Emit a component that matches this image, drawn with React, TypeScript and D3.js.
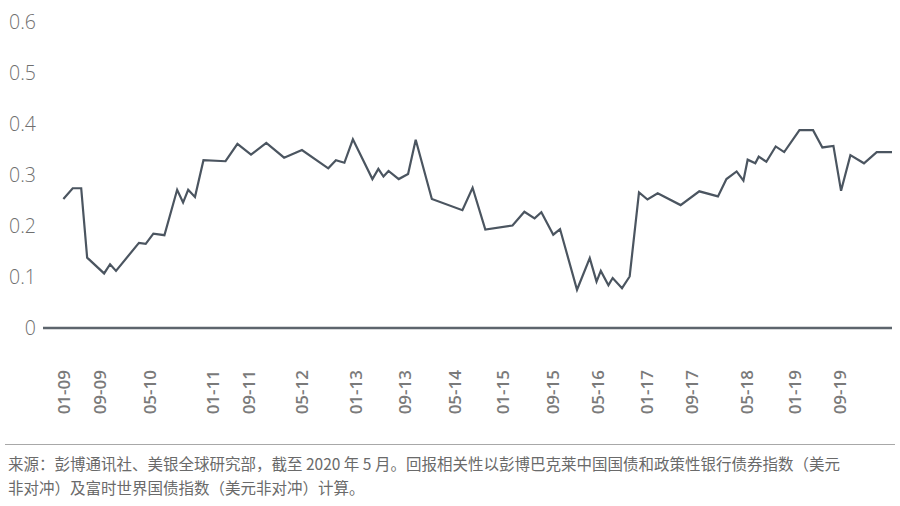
import React from "react";
import * as d3 from "d3";

// x positions on a 0–100 scale across the plot width (observation position), y = return correlation
const pointX = [
  2.4, 3.5, 4.5, 5.2, 7.2, 7.9, 8.6, 11.3, 12.1, 13.0, 14.3, 15.8, 16.5, 17.1, 17.9, 18.9,
  21.5, 22.9, 24.5, 26.3, 28.4, 30.5, 33.6, 34.5, 35.5, 36.5, 38.8, 39.5, 40.1, 40.7, 41.9,
  43.0, 43.9, 45.8, 49.4, 50.6, 52.1, 55.3, 56.7, 57.9, 58.7, 60.1, 60.9, 62.9, 64.4, 65.2,
  65.7, 66.6, 67.1, 68.2, 69.1, 70.2, 71.2, 72.4, 75.1, 77.3, 79.5, 80.5, 81.7, 82.5, 83.0,
  83.9, 84.3, 85.2, 86.3, 87.3, 89.1, 90.7, 91.8, 93.1, 94.0, 95.1, 96.7, 98.2, 100.0,
];
const correlation = [
  0.253, 0.274, 0.274, 0.138, 0.107, 0.125, 0.112, 0.167, 0.165, 0.185, 0.182, 0.271, 0.246, 0.271, 0.257, 0.329,
  0.327, 0.361, 0.340, 0.363, 0.334, 0.349, 0.313, 0.329, 0.324, 0.370, 0.292, 0.312, 0.297, 0.308, 0.292,
  0.302, 0.369, 0.253, 0.231, 0.275, 0.193, 0.201, 0.228, 0.215, 0.227, 0.183, 0.194, 0.075, 0.137, 0.091,
  0.112, 0.084, 0.098, 0.078, 0.101, 0.266, 0.252, 0.264, 0.241, 0.268, 0.258, 0.292, 0.307, 0.289, 0.330,
  0.323, 0.336, 0.326, 0.356, 0.345, 0.388, 0.388, 0.354, 0.357, 0.269, 0.339, 0.323, 0.345, 0.345,
];

const tickLabels = [
  "01-09", "09-09", "05-10", "01-11", "09-11", "05-12", "01-13", "09-13", "05-14",
  "01-15", "09-15", "05-16", "01-17", "09-17", "05-18", "01-19", "09-19",
];
const tickX = [2.5, 6.7, 12.6, 20.0, 24.2, 30.5, 36.8, 42.6, 48.5, 54.2, 60.1, 65.3, 71.1, 76.4, 82.9, 88.6, 93.9];
const yTicks = [0, 0.1, 0.2, 0.3, 0.4, 0.5, 0.6];
const yTickLabels = ["0", "0.1", "0.2", "0.3", "0.4", "0.5", "0.6"];

const footerLines = [
  "来源：彭博通讯社、美银全球研究部，截至 2020 年 5 月。回报相关性以彭博巴克莱中国国债和政策性银行债券指数（美元",
  "非对冲）及富时世界国债指数（美元非对冲）计算。",
];

export default function App() {
  const width = 900;
  const height = 506;
  const x = d3.scaleLinear().domain([0, 100]).range([43, 892]);
  const y = d3.scaleLinear().domain([0, 0.6]).range([328, 22]);
  const pts: [number, number][] = pointX.map((px, i) => [px, correlation[i]]);
  const line = d3
    .line<[number, number]>()
    .x((d) => x(d[0]))
    .y((d) => y(d[1]));

  return (
    <svg
      width={width}
      height={height}
      style={{ position: "absolute", left: 0, top: 0, background: "#fff" }}
    >
      {yTicks.map((t, i) => (
        <text
          key={"y" + i}
          x={36}
          y={y(t)}
          dy="0.36em"
          textAnchor="end"
          fontFamily="'Open Sans', sans-serif"
          fontSize={19.5}
          fontWeight={300}
          fill="#6f6f6f"
        >
          {yTickLabels[i]}
        </text>
      ))}
      <line x1={x(0)} x2={x(100)} y1={y(0)} y2={y(0)} stroke="#5d656d" strokeWidth={2.5} />
      <path d={line(pts) || ""} fill="none" stroke="#4b5560" strokeWidth={2.2} strokeLinejoin="miter" />
      {tickLabels.map((lab, i) => {
        const tx = x(tickX[i]);
        const ty = 370;
        return (
          <text
            key={"x" + i}
            x={tx}
            y={ty}
            dy="0.36em"
            transform={`rotate(-90, ${tx}, ${ty})`}
            textAnchor="end"
            fontFamily="'Open Sans', sans-serif"
            fontSize={17}
            fontWeight={600}
            fill="#7a7a7a"
          >
            {lab}
          </text>
        );
      })}
      <line x1={5} x2={895} y1={444.5} y2={444.5} stroke="#a8a8a8" strokeWidth={1.2} />
      {footerLines.map((l, i) => (
        <text
          key={"f" + i}
          x={8}
          y={470 + i * 24}
          fontFamily="'Noto Sans CJK SC', sans-serif"
          fontSize={15.5}
          fill="#6a6a6a"
        >
          {l}
        </text>
      ))}
    </svg>
  );
}
